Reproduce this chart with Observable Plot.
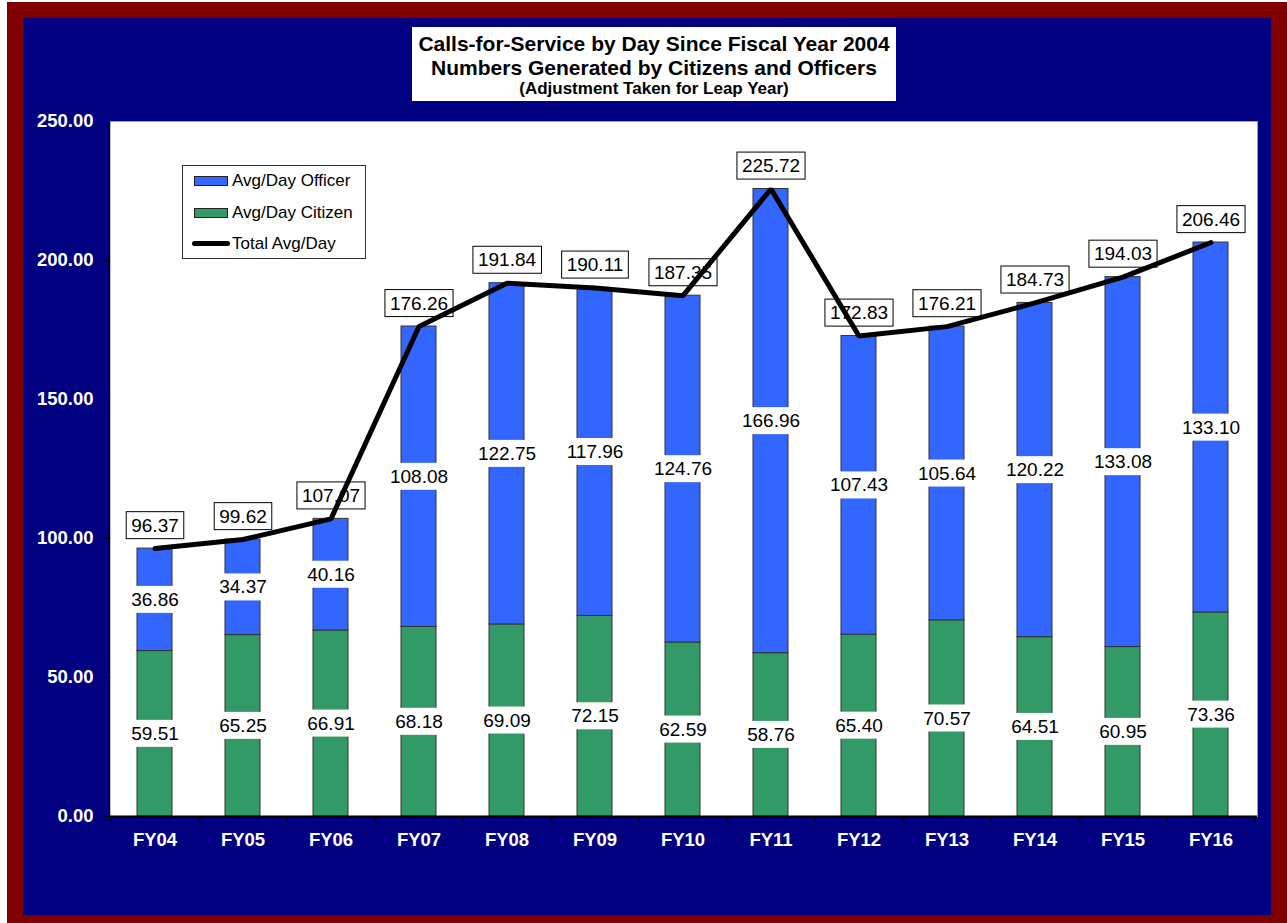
<!DOCTYPE html>
<html>
<head>
<meta charset="utf-8">
<script src="https://cdn.jsdelivr.net/npm/d3@7"></script>
<script src="https://cdn.jsdelivr.net/npm/@observablehq/plot@0.6"></script>
<style>
  body { margin: 0; background: #ffffff; }
  #page { position: relative; width: 1287px; height: 923px; background: #ffffff; overflow: hidden; font-family: "Liberation Sans", Arial, sans-serif; }
  #red { position: absolute; left: 7px; top: 2px; width: 1280px; height: 921px; background: #800000; }
  #chart { position: absolute; left: 23px; top: 18px; width: 1248px; height: 897px; background: #000080; }
  #title { position: absolute; left: 412px; top: 27px; width: 484px; height: 74px; background: #ffffff; text-align: center; font-weight: bold; color: #000; }
  #title .t1 { position: absolute; left: 0; right: 0; top: 5px; font-size: 21px; line-height: 23px; white-space: nowrap; }
  #title .t2 { position: absolute; left: 0; right: 0; top: 28.5px; font-size: 21px; line-height: 23px; white-space: nowrap; }
  #title .t3 { position: absolute; left: 0; right: 0; top: 51.5px; font-size: 17px; line-height: 19px; white-space: nowrap; }
  #legend { position: absolute; left: 182px; top: 165px; width: 182px; height: 92px; background: #ffffff; border: 1px solid #333; }
  .item { position: absolute; left: 0; height: 20px; width: 180px; }
  .item .sw { position: absolute; left: 11px; top: 5px; width: 32px; height: 8px; border: 1px solid #222; }
  .item .ln { position: absolute; left: 9px; top: 7px; width: 38px; height: 5px; border-radius: 3px; background: #000; }
  .item .lab { position: absolute; left: 49px; top: 0; font-size: 17px; line-height: 20px; color: #000; white-space: nowrap; }
</style>
</head>
<body>
<div id="page">
  <div id="red"></div>
  <div id="chart"></div>
  <div id="title">
    <div class="t1">Calls-for-Service by Day Since Fiscal Year 2004</div>
    <div class="t2">Numbers Generated by Citizens and Officers</div>
    <div class="t3">(Adjustment Taken for Leap Year)</div>
  </div>
  <div id="legend"></div>
</div>
<script>
// ---- data ----
const categories = ["FY04","FY05","FY06","FY07","FY08","FY09","FY10","FY11","FY12","FY13","FY14","FY15","FY16"];
const citizen = [59.51,65.25,66.91,68.18,69.09,72.15,62.59,58.76,65.40,70.57,64.51,60.95,73.36];
const officer = [36.86,34.37,40.16,108.08,122.75,117.96,124.76,166.96,107.43,105.64,120.22,133.08,133.10];
const total = [96.37,99.62,107.07,176.26,191.84,190.11,187.35,225.72,172.83,176.21,184.73,194.03,206.46];
const yTicks = [0,50,100,150,200,250];
const seriesNames = ["Avg/Day Citizen","Avg/Day Officer"];
const seriesColors = ["#339966","#3366FF"];
const legendNames = ["Avg/Day Officer","Avg/Day Citizen","Total Avg/Day"];

// ---- derived tables ----
const rows = categories.flatMap((c, i) => [
  {cat: c, series: seriesNames[0], value: citizen[i], mid: citizen[i] / 2},
  {cat: c, series: seriesNames[1], value: officer[i], mid: citizen[i] + officer[i] / 2}
]);
const totals = categories.map((c, i) => ({cat: c, total: total[i]}));

const W = 1248, H = 897, ML = 86, MR = 14, MT = 103, MB = 99;
const step = (W - ML - MR) / categories.length;
const font = "'Liberation Sans', Arial, sans-serif";

const plot = Plot.plot({
  width: W, height: H,
  marginLeft: ML, marginRight: MR, marginTop: MT, marginBottom: MB,
  style: {background: "transparent", fontFamily: font},
  x: {domain: categories, paddingInner: 0.6, paddingOuter: 0.3, label: null},
  y: {domain: [0, 250], label: null},
  color: {domain: seriesNames, range: seriesColors},
  marks: [
    Plot.frame({fill: "#ffffff", stroke: "#a0a0a0"}),
    Plot.axisY(yTicks, {tickSize: 5, tickPadding: 11, tickFormat: d3.format(".2f"), stroke: "#000", fill: "#ffffff", fontSize: 18.5, fontWeight: "bold", label: null}),
    Plot.axisX({tickSize: 0, tickPadding: 16, fill: "#ffffff", fontSize: 18.5, fontWeight: "bold", label: null}),
    Plot.axisX({tickSize: 6, tickFormat: () => "", stroke: "#000", dx: -step / 2, label: null}),
    Plot.axisX([categories[categories.length - 1]], {tickSize: 6, tickFormat: () => "", stroke: "#000", dx: step / 2, label: null}),
    Plot.barY(rows, {x: "cat", y: "value", fill: "series", order: seriesNames, stroke: "#333", strokeWidth: 1}),
    Plot.frame({anchor: "left", stroke: "#000", strokeWidth: 1.5}),
    Plot.ruleY([0], {stroke: "#000", strokeWidth: 2}),
    Plot.text(rows, {x: "cat", y: "mid", text: d => d.value.toFixed(2), fontSize: 19, fill: "#000", ariaDescription: "seglabel"}),
    Plot.text(totals, {x: "cat", y: "total", dy: -23, text: d => d.total.toFixed(2), fontSize: 19, fill: "#000", ariaDescription: "totlabel"}),
    Plot.line(totals, {x: "cat", y: "total", stroke: "#000", strokeWidth: 5, strokeLinejoin: "miter", strokeLinecap: "round"})
  ]
});
document.getElementById("chart").appendChild(plot);

// white label backgrounds (sized from the rendered text)
function addBoxes(desc, padX, h, stroke) {
  plot.querySelectorAll(`g[aria-description="${desc}"] text`).forEach(t => {
    const b = t.getBBox();
    const r = document.createElementNS("http://www.w3.org/2000/svg", "rect");
    r.setAttribute("x", b.x - padX);
    r.setAttribute("y", b.y + b.height / 2 - h / 2);
    r.setAttribute("width", b.width + 2 * padX);
    r.setAttribute("height", h);
    r.setAttribute("fill", "#ffffff");
    if (stroke) { r.setAttribute("stroke", stroke); r.setAttribute("stroke-width", 1); } else r.setAttribute("stroke", "none");
    const tr = t.getAttribute("transform");
    if (tr) r.setAttribute("transform", tr);
    t.parentNode.insertBefore(r, t);
  });
}
addBoxes("seglabel", 2, 27, null);
addBoxes("totlabel", 5, 27, "#000");

// legend
const leg = document.getElementById("legend");
legendNames.forEach((name, i) => {
  const it = document.createElement("div");
  it.className = "item";
  it.style.top = (5 + i * 31.5) + "px";
  const sw = document.createElement("div");
  if (i < 2) { sw.className = "sw"; sw.style.background = i === 0 ? seriesColors[1] : seriesColors[0]; }
  else sw.className = "ln";
  const lab = document.createElement("div");
  lab.className = "lab"; lab.textContent = name;
  it.appendChild(sw); it.appendChild(lab); leg.appendChild(it);
});
</script>
</body>
</html>
